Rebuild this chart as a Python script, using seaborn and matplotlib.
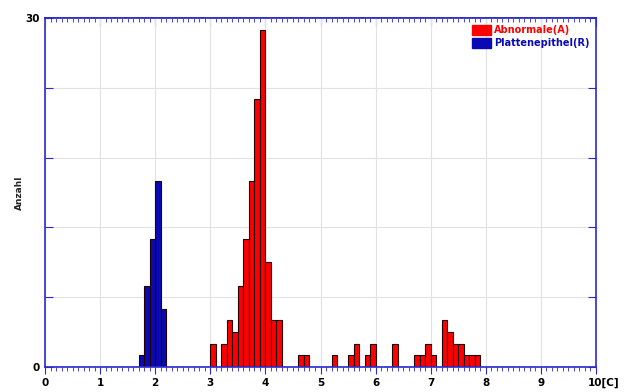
import numpy as np
import pandas as pd
import seaborn as sns
import matplotlib.pyplot as plt
import matplotlib.transforms as mtransforms
from matplotlib.patches import Patch

# histogram bins (left edges, width 0.1) and counts
abn_bins = [3.0, 3.2, 3.3, 3.4, 3.5, 3.6, 3.7, 3.8, 3.9, 4.0, 4.1, 4.2,
            4.6, 4.7, 5.2, 5.5, 5.6, 5.8, 5.9, 6.3,
            6.7, 6.8, 6.9, 7.0, 7.2, 7.3, 7.4, 7.5, 7.6, 7.7, 7.8]
abn_counts = [2, 2, 4, 3, 7, 11, 16, 23, 29, 9, 4, 4,
              1, 1, 1, 1, 2, 1, 2, 2,
              1, 1, 2, 1, 4, 3, 2, 2, 1, 1, 1]
pla_bins = [1.7, 1.8, 1.9, 2.0, 2.1]
pla_counts = [1, 7, 11, 16, 5]

labels = ["Abnormale(A)", "Plattenepithel(R)"]
colors = ["#ff0000", "#0a0ab4"]
xtick_labels = ["0", "1", "2", "3", "4", "5", "6", "7", "8", "9", "10[C]"]

df = pd.DataFrame({
    "x": np.round(np.r_[abn_bins, pla_bins], 2) + 0.05,
    "n": abn_counts + pla_counts,
    "typ": [labels[0]] * len(abn_bins) + [labels[1]] * len(pla_bins),
})

blue = "#2a2ad0"
sns.set_style("white")
fig = plt.figure(figsize=(6.28, 3.92), dpi=100)
ax = fig.add_axes([45 / 628, 25 / 392, 551 / 628, 349 / 392])

sns.histplot(data=df, x="x", weights="n", hue="typ", hue_order=labels,
             palette=colors, binwidth=0.1, binrange=(0, 10), multiple="layer",
             alpha=1, edgecolor="#200000", linewidth=0.8, legend=False, ax=ax)

ax.set_xlim(0, 10)
ax.set_ylim(0, 30)
ax.set_xticks(range(11))
ax.set_xticklabels(xtick_labels, fontsize=7.5, fontweight="bold")
ax.set_xticks(np.arange(0, 10.01, 0.1), minor=True)
ax.set_yticks([0, 6, 12, 18, 24, 30])
ax.set_yticklabels(["0", "", "", "", "", "30"], fontsize=7.5, fontweight="bold")
ax.set_xlabel("")
ax.set_ylabel("Anzahl", fontsize=6.5, fontweight="bold")
ax.yaxis.set_label_coords(-21 / 551, 0.5)

ax.grid(True, color="#e2e2e2", linewidth=0.8)
ax.set_axisbelow(True)
for sp in ax.spines.values():
    sp.set_color(blue)
    sp.set_linewidth(1.2)

ax.tick_params(axis="x", which="both", colors=blue, labelcolor="black",
               top=False, bottom=True, direction="out", pad=3)
ax.tick_params(axis="x", which="major", length=5)
ax.tick_params(axis="x", which="minor", length=3)
ax.tick_params(axis="y", colors=blue, labelcolor="black",
               left=True, right=True, direction="in", length=6, pad=4)

# top edge: ticks pointing inwards, no labels
top = ax.secondary_xaxis("top")
top.set_xticks(range(11))
top.set_xticks(np.arange(0, 10.01, 0.1), minor=True)
top.tick_params(which="both", direction="in", colors=blue, labeltop=False)
top.tick_params(which="major", length=6)
top.tick_params(which="minor", length=3)
top.spines["top"].set_color(blue)
top.spines["top"].set_linewidth(1.2)

last = ax.get_xticklabels()[-1]
last.set_horizontalalignment("left")
last.set_transform(last.get_transform() +
                   mtransforms.ScaledTranslation(-8 / 100, 0, fig.dpi_scale_trans))

handles = [Patch(facecolor=c, edgecolor=c) for c in colors]
leg = ax.legend(handles, labels, loc="upper right", frameon=False,
                prop={"size": 7, "weight": "bold"}, handlelength=2.0,
                handleheight=1.3, handletextpad=0.25, labelspacing=0.25,
                borderaxespad=0.5, borderpad=0.2)
for t, c in zip(leg.get_texts(), colors):
    t.set_color(c)

fig.savefig("out.png", dpi=100)
